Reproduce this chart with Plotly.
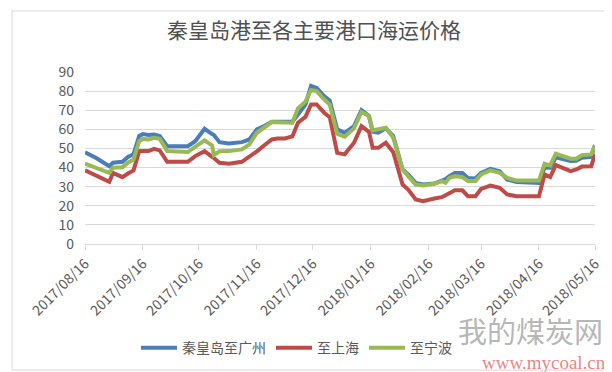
import plotly.graph_objects as go

dates = [
    "2017-08-16", "2017-08-22", "2017-08-29", "2017-08-31", "2017-09-05", "2017-09-08",
    "2017-09-11", "2017-09-14", "2017-09-16", "2017-09-19", "2017-09-22", "2017-09-25",
    "2017-09-29", "2017-10-10", "2017-10-14", "2017-10-19", "2017-10-23", "2017-10-24",
    "2017-10-27", "2017-11-01", "2017-11-08", "2017-11-12", "2017-11-16", "2017-11-20",
    "2017-11-24", "2017-11-27", "2017-12-01", "2017-12-05", "2017-12-08", "2017-12-12",
    "2017-12-15", "2017-12-18", "2017-12-22", "2017-12-25", "2017-12-29", "2018-01-02",
    "2018-01-07", "2018-01-11", "2018-01-15", "2018-01-17", "2018-01-20", "2018-01-24",
    "2018-01-28", "2018-02-02", "2018-02-05", "2018-02-09", "2018-02-13", "2018-02-19",
    "2018-02-23", "2018-02-25", "2018-02-27", "2018-03-02", "2018-03-06", "2018-03-09",
    "2018-03-13", "2018-03-16", "2018-03-21", "2018-03-26", "2018-03-30", "2018-04-04",
    "2018-04-16", "2018-04-19", "2018-04-22", "2018-04-25", "2018-05-03", "2018-05-06",
    "2018-05-09", "2018-05-14", "2018-05-16",
]

guangzhou = [
    48.0, 45.0, 40.7, 42.5, 43.0, 45.5, 47.0, 56.5, 57.5, 57.0, 57.3, 56.5,
    51.2, 51.2, 53.8, 60.3, 57.5, 57.0, 53.3, 52.6, 53.3, 54.7, 60.0, 61.7,
    64.0, 64.0, 63.8, 64.0, 67.8, 73.0, 82.7, 81.6, 77.4, 75.0, 60.0, 58.2,
    61.7, 70.1, 67.0, 58.7, 58.2, 60.5, 56.5, 39.0, 36.4, 32.0, 31.1, 31.6,
    33.2, 34.0, 35.5, 37.2, 37.2, 34.6, 34.3, 37.2, 39.3, 38.1, 33.7, 32.5,
    32.0, 39.9, 39.9, 45.3, 43.4, 43.5, 45.1, 45.6, 51.7,
]

shanghai = [
    38.6, 35.8, 32.5, 37.2, 35.0, 36.9, 38.5, 48.6, 48.6, 48.6, 49.8, 49.0,
    43.0, 43.0, 46.0, 48.6, 45.6, 45.0, 42.5, 42.0, 43.0, 45.6, 48.5, 51.7,
    54.7, 55.2, 55.2, 56.3, 63.5, 66.5, 73.0, 73.0, 68.7, 66.4, 47.7, 46.9,
    53.0, 61.7, 58.7, 50.3, 50.3, 53.0, 48.0, 31.1, 28.5, 23.3, 22.4, 23.8,
    24.5, 25.5, 26.7, 28.1, 28.1, 25.0, 25.0, 28.8, 30.6, 29.4, 25.9, 25.0,
    25.0, 36.4, 35.0, 41.3, 38.1, 39.0, 40.5, 40.7, 46.9,
]

ningbo = [
    42.0, 40.0, 37.2, 39.9, 40.2, 42.5, 44.2, 53.8, 55.0, 54.7, 55.6, 55.0,
    48.6, 48.1, 50.7, 54.2, 51.6, 46.5, 48.5, 48.6, 49.5, 52.1, 58.2, 60.8,
    63.8, 63.7, 63.5, 63.5, 71.0, 74.5, 80.6, 80.0, 75.7, 73.0, 57.7, 56.1,
    60.5, 69.1, 67.0, 59.4, 60.0, 60.8, 55.6, 39.0, 35.5, 31.1, 30.6, 31.5,
    32.9, 32.0, 34.6, 35.5, 35.0, 32.9, 32.9, 36.4, 38.5, 37.2, 34.6, 33.2,
    33.2, 42.0, 41.1, 47.2, 44.6, 44.6, 46.5, 46.9, 51.7,
]

series_names = ["秦皇岛至广州", "至上海", "至宁波"]
series_colors = ["#4A7EBB", "#BE4B48", "#98B954"]

tick_dates = [
    "2017-08-16", "2017-09-16", "2017-10-16", "2017-11-16", "2017-12-16",
    "2018-01-16", "2018-02-16", "2018-03-16", "2018-04-16", "2018-05-16",
]
tick_labels = [d.replace("-", "/") for d in tick_dates]
y_ticks = [0, 10, 20, 30, 40, 50, 60, 70, 80, 90]

FONT = "Noto Sans CJK SC, Microsoft YaHei, sans-serif"

fig = go.Figure()
for name, vals, col in zip(series_names, [guangzhou, shanghai, ningbo], series_colors):
    fig.add_trace(go.Scatter(
        x=dates, y=vals, mode="lines", name=name,
        line=dict(color=col, width=4),
    ))

fig.update_layout(
    width=612, height=372,
    margin=dict(l=77, r=25, t=64, b=136),
    paper_bgcolor="white", plot_bgcolor="white",
    font=dict(family=FONT, color="#595959", size=14),
    title=dict(text="秦皇岛港至各主要港口海运价格", x=0.5, xanchor="center",
               y=0.94, yanchor="middle",
               font=dict(size=21, color="#505050", family=FONT)),
    showlegend=True,
    legend=dict(orientation="h", x=0.1, xanchor="left", y=-0.605, yanchor="middle",
                font=dict(size=14, color="#595959"), itemwidth=36,
                bgcolor="rgba(0,0,0,0)"),
    xaxis=dict(type="date", range=["2017-08-16", "2018-05-16"],
               tickvals=tick_dates, ticktext=tick_labels, tickangle=-45,
               showgrid=False, showline=True, linecolor="#D9D9D9", linewidth=1,
               ticks="outside", ticklen=5, tickcolor="#D9D9D9",
               tickfont=dict(size=14, color="#595959"), zeroline=False),
    yaxis=dict(range=[0, 90], tickvals=y_ticks, showgrid=True, gridcolor="#D9D9D9",
               gridwidth=1, zeroline=False, showline=False, ticklabelstandoff=10,
               tickfont=dict(size=14, color="#595959")),
    shapes=[dict(type="rect", xref="paper", yref="paper",
                 x0=-0.143, x1=1.035, y0=-0.733, y1=1.355,
                 line=dict(color="#D9D9D9", width=1), layer="below")],
    annotations=[
        dict(text="我的煤炭网", xref="paper", yref="paper", x=1.02, y=-0.5,
             xanchor="right", yanchor="middle", showarrow=False,
             font=dict(size=29, color="rgba(140,140,140,0.65)", family=FONT)),
        dict(text="www.mycoal.cn", xref="paper", yref="paper", x=1.025, y=-0.69,
             xanchor="right", yanchor="middle", showarrow=False,
             font=dict(size=19, color="rgba(230,110,110,0.85)",
                       family="Liberation Serif, serif")),
    ],
)

fig.write_html("out.html")
